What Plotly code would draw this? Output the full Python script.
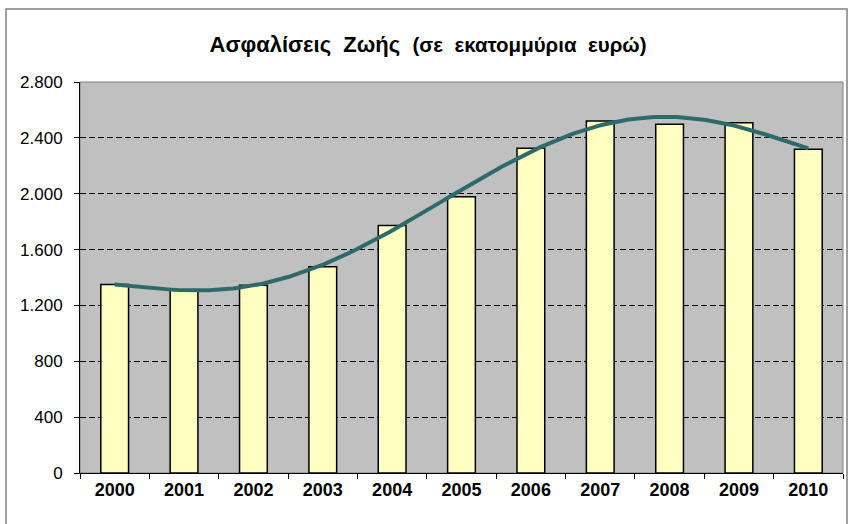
import numpy as np
import plotly.graph_objects as go

years = ["2000", "2001", "2002", "2003", "2004", "2005", "2006", "2007", "2008", "2009", "2010"]
premiums = [1350, 1310, 1345, 1477, 1773, 1978, 2325, 2521, 2497, 2509, 2318]
y_tickvals = [0, 400, 800, 1200, 1600, 2000, 2400, 2800]
y_ticktext = ["0", "400", "800", "1.200", "1.600", "2.000", "2.400", "2.800"]

# polynomial trendline (as in the original spreadsheet chart), fitted from the bar data
idx = np.arange(len(years))
coef = np.polyfit(idx, premiums, 5)
xs = np.linspace(0, len(years) - 1, 200)
trend = np.polyval(coef, xs)

fig = go.Figure()
fig.add_trace(go.Bar(
    x=years, y=premiums,
    marker=dict(color="#FFFFC0", line=dict(color="black", width=1.5)),
    width=0.4, showlegend=False,
))
fig.add_trace(go.Scatter(
    x=xs, y=trend, xaxis="x2", mode="lines",
    line=dict(color="#2F6A6A", width=4), showlegend=False,
))

W, H = 856, 524
L, R, T, B = 80, 13, 82, 51
pw, ph = W - L - R, H - T - B

fig.update_layout(
    width=W, height=H,
    margin=dict(l=L, r=R, t=T, b=B),
    paper_bgcolor="white",
    plot_bgcolor="#C0C0C0",
    font=dict(family="Liberation Sans, Arial, sans-serif", color="black"),
    title=dict(
        text="<b>Ασφαλίσεις\u00a0\u00a0Ζωής</b>\u00a0\u00a0<b><span style='font-size:20.5px'>(σε\u00a0\u00a0εκατομμύρια\u00a0\u00a0ευρώ)</span></b>",
        x=0.5, xanchor="center", y=1 - 44 / H, yanchor="middle",
        font=dict(size=22, color="black"),
    ),
    xaxis=dict(
        type="category", range=[-0.5, 10.5],
        showline=True, linecolor="black", linewidth=1,
        ticks="outside", tickson="boundaries", ticklen=5, tickcolor="black",
        showgrid=False,
        tickfont=dict(size=18, family="Liberation Sans, Arial, sans-serif", color="black", weight="bold"),
    ),
    xaxis2=dict(overlaying="x", range=[-0.5, 10.5], visible=False),
    yaxis=dict(
        range=[0, 2800], tickvals=y_tickvals, ticktext=y_ticktext,
        showline=True, linecolor="black", linewidth=1,
        ticks="outside", ticklen=5, tickcolor="black",
        showgrid=True, gridcolor="black", griddash="6px,3px", gridwidth=1,
        zeroline=False,
        tickfont=dict(size=17, color="black"),
        ticklabelstandoff=8,
    ),
    bargap=0.6,
    shapes=[
        dict(type="rect", xref="paper", yref="paper", x0=0, x1=1, y0=0, y1=1,
             line=dict(color="#808080", width=1), layer="below"),
        dict(type="rect", xref="paper", yref="paper",
             x0=(6 - L) / pw, x1=(847 - L) / pw,
             y0=-0.3, y1=(H - B - 9) / ph,
             line=dict(color="#808080", width=1.5), fillcolor="rgba(0,0,0,0)", layer="below"),
    ],
)

fig.write_html("out.html", post_script="document.body.style.margin='0';",
               config={"displayModeBar": False})
